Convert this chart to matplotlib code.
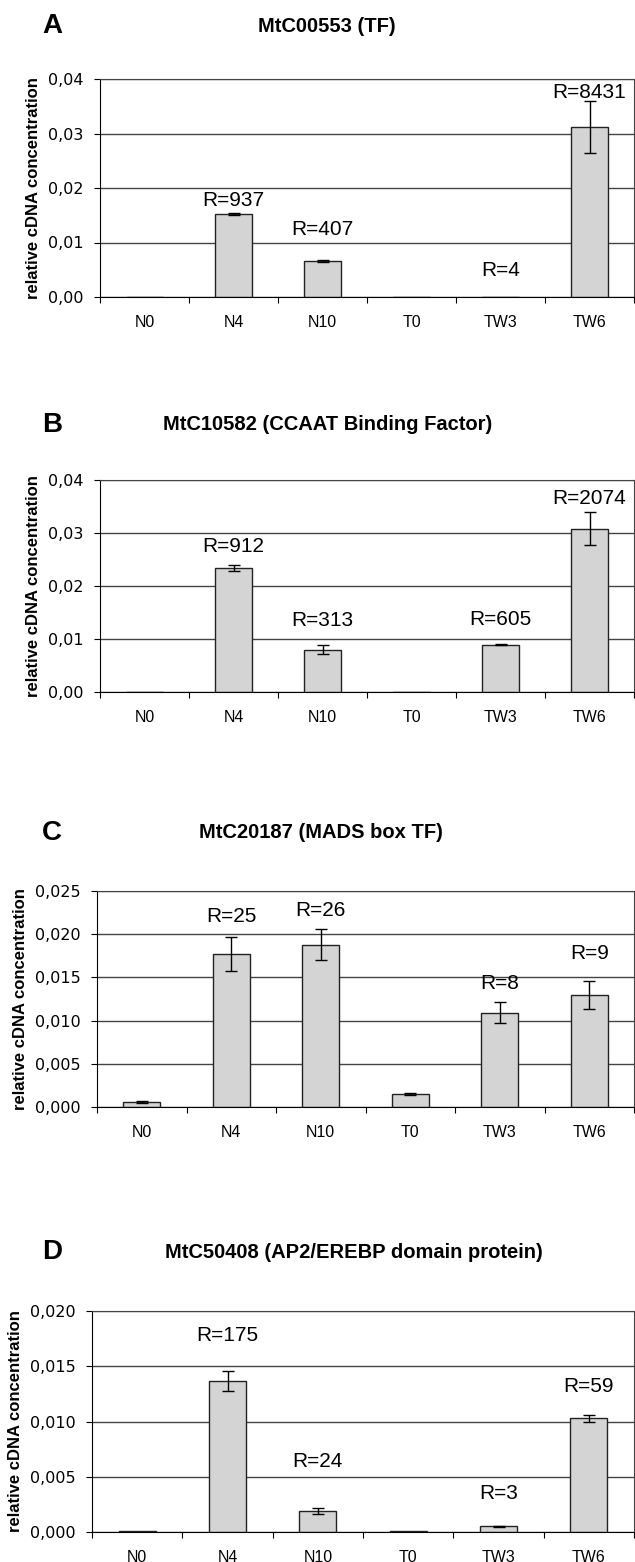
import matplotlib
matplotlib.use('Agg')
import matplotlib.pyplot as plt
import numpy as np

plt.rcParams['font.family'] = ['Liberation Sans', 'DejaVu Sans']

categories = ['N0', 'N4', 'N10', 'T0', 'TW3', 'TW6']

letters = ['A', 'B', 'C', 'D']
titles = ['MtC00553 (TF)',
          'MtC10582 (CCAAT Binding Factor)',
          'MtC20187 (MADS box TF)',
          'MtC50408 (AP2/EREBP domain protein)']

vals_a = [0.0, 0.0153, 0.0066, 0.0, 0.00003, 0.0312]
err_a = [0.0, 0.0002, 0.0001, 0.0, 0.0, 0.0048]
rlab_a = ['', 'R=937', 'R=407', '', 'R=4', 'R=8431']
rpos_a = [0, 0.0177, 0.0123, 0, 0.0048, 0.0376]

vals_b = [0.0, 0.0234, 0.0080, 0.0, 0.0089, 0.0308]
err_b = [0.0, 0.0005, 0.0008, 0.0, 0.0001, 0.0031]
rlab_b = ['', 'R=912', 'R=313', '', 'R=605', 'R=2074']
rpos_b = [0, 0.0275, 0.0134, 0, 0.0136, 0.0365]

vals_c = [0.0006, 0.0177, 0.0188, 0.0015, 0.0109, 0.0130]
err_c = [0.0001, 0.0020, 0.0018, 0.0001, 0.0012, 0.0016]
rlab_c = ['', 'R=25', 'R=26', '', 'R=8', 'R=9']
rpos_c = [0, 0.0220, 0.0228, 0, 0.0143, 0.0178]

vals_d = [0.0001, 0.0137, 0.0019, 0.0001, 0.0005, 0.0103]
err_d = [0.0, 0.0009, 0.00025, 0.0, 0.00005, 0.0003]
rlab_d = ['', 'R=175', 'R=24', '', 'R=3', 'R=59']
rpos_d = [0, 0.0178, 0.0064, 0, 0.0035, 0.0132]

ymax = [0.04, 0.04, 0.025, 0.02]
ystep = [0.01, 0.01, 0.005, 0.005]
ydec = [2, 2, 3, 3]

# axes boxes in pixels: left, top, bottom ; title centre x, title y
W, H = 635, 1562
boxes = [(100, 79, 297, 327, 26),
         (100, 480, 692, 328, 425),
         (97, 891, 1107, 321, 833),
         (92, 1311, 1532, 354, 1252)]

fig = plt.figure(figsize=(W / 100, H / 100), dpi=100)

data = [(vals_a, err_a, rlab_a, rpos_a), (vals_b, err_b, rlab_b, rpos_b),
        (vals_c, err_c, rlab_c, rpos_c), (vals_d, err_d, rlab_d, rpos_d)]

for i, (vals, errs, rlabs, rpos) in enumerate(data):
    left, top, bottom, tx, ty = boxes[i]
    ax = fig.add_axes([left / W, 1 - bottom / H, (634 - left) / W, (bottom - top) / H])
    x = np.arange(len(categories)) + 0.5
    ax.set_axisbelow(True)
    ax.yaxis.grid(True, color='#444444', lw=1)
    ax.bar(x, vals, width=0.41, color='#d4d4d4', edgecolor='#222222', lw=1, zorder=2)
    for xi, v, e in zip(x, vals, errs):
        if e > 0:
            ax.errorbar(xi, v, yerr=e, color='black', lw=1, capsize=4, capthick=1, zorder=3)
    for xi, lab, p in zip(x, rlabs, rpos):
        if lab:
            ax.text(xi, p, lab, ha='center', va='center', fontsize=15, zorder=4)
    ax.set_xlim(0, len(categories))
    ax.set_ylim(0, ymax[i])
    ticks = np.arange(0, ymax[i] + ystep[i] / 2, ystep[i])
    ax.set_yticks(ticks)
    ax.set_yticklabels([(('%.' + str(ydec[i]) + 'f') % t).replace('.', ',') for t in ticks],
                       fontsize=11.5, family=['DejaVu Sans'])
    ax.set_xticks(np.arange(len(categories) + 1))
    ax.set_xticklabels([])
    ax.set_xticks(x, minor=True)
    ax.set_xticklabels(categories, minor=True, fontsize=11.5)
    ax.tick_params(axis='x', which='minor', length=0, pad=13)
    ax.tick_params(axis='x', which='major', length=4, direction='out')
    ax.tick_params(axis='y', length=4, direction='out', pad=8)
    for s in ['top', 'right']:
        ax.spines[s].set_color('#444444')
    ax.set_ylabel('relative cDNA concentration', fontsize=12, fontweight='bold', labelpad=5)
    fig.text(42 / W, 1 - ty / H, letters[i], fontsize=20, fontweight='bold', va='center')
    fig.text(tx / W, 1 - ty / H, titles[i], fontsize=14.5, fontweight='bold', va='center', ha='center')

fig.savefig('out.png', dpi=100)
